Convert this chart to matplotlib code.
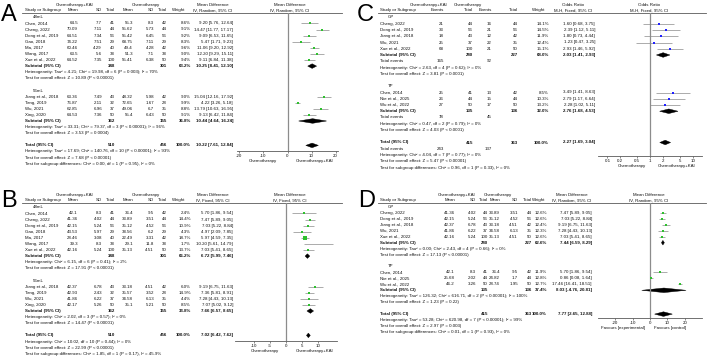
import matplotlib.pyplot as plt
from matplotlib.patches import Polygon
from matplotlib.ticker import NullLocator

plt.rcParams['font.family'] = ['Liberation Sans', 'DejaVu Sans']
FS = 3.2

# ---------------- A: 48mL / 56mL, IV random
a1_study = ["Chen, 2014", "Cheng, 2022", "Dong et al., 2019", "Gao, 2018", "Ma, 2017", "Wang, 2017", "Xue et al., 2022"]
a1_m1 = ["64.5", "70.09", "64.51", "74.22", "60.46", "63.5", "64.52"]
a1_sd1 = ["7.7", "7.11", "7.34", "7.51", "4.29", "5.6", "7.35"]
a1_n1 = [41, 44, 56, 29, 40, 38, 100]
a1_m2 = ["55.3", "55.62", "55.42", "68.75", "49.4", "51.3", "55.41"]
a1_sd2 = ["8.3", "5.73", "6.45", "7.11", "4.28", "7.1", "6.38"]
a1_n2 = [42, 44, 56, 29, 42, 38, 50]
a1_w = [8.6, 9.1, 9.2, 8.3, 9.6, 9.0, 9.4]
a1_md = [9.20, 14.47, 9.09, 5.47, 11.06, 12.20, 9.11]
a1_lo = [5.76, 11.77, 6.53, 1.71, 9.20, 9.29, 6.84]
a1_hi = [12.64, 17.17, 11.65, 9.23, 12.92, 15.11, 11.38]
a1_sub = [10.25, 8.41, 12.10]
a1_subw = "63.2%"
a1_het = "Heterogeneity: Tau² = 4.21; Chi² = 19.98, df = 6 (P = 0.003); I² = 70%"
a1_z = "Test for overall effect: Z = 10.89 (P < 0.00001)"

a2_study = ["Jiang et al., 2018", "Tang, 2019", "Wu, 2021", "Xing, 2020"]
a2_m1 = ["63.36", "76.87", "62.85", "64.53"]
a2_sd1 = ["7.49", "2.11", "6.96", "7.36"]
a2_n1 = [43, 32, 37, 50]
a2_m2 = ["48.32", "72.65", "49.06", "55.4"]
a2_sd2 = ["5.98", "1.67", "6.7", "6.43"]
a2_n2 = [42, 28, 35, 50]
a2_w = [9.0, 9.9, 8.8, 9.1]
a2_md = [15.04, 4.22, 13.79, 9.13]
a2_lo = [12.16, 3.26, 10.63, 6.42]
a2_hi = [17.92, 5.18, 16.95, 11.84]
a2_sub = [10.44, 4.64, 16.24]
a2_subw = "36.8%"
a2_het = "Heterogeneity: Tau² = 33.31; Chi² = 79.37, df = 3 (P < 0.00001); I² = 96%"
a2_z = "Test for overall effect: Z = 3.53 (P = 0.0004)"

a_tot = [10.22, 7.61, 12.84]
a_foot = ["Heterogeneity: Tau² = 17.69; Chi² = 140.76, df = 10 (P < 0.00001); I² = 93%",
          "Test for overall effect: Z = 7.68 (P < 0.00001)",
          "Test for subgroup differences: Chi² = 0.00, df = 1 (P = 0.95), I² = 0%"]

# ---------------- B: 48mL / 56mL, IV fixed
b1_study = ["Chen, 2014", "Cheng, 2022", "Dong et al., 2019", "Gao, 2018", "Ma, 2017", "Wang, 2017", "Xue et al., 2022"]
b1_m1 = ["42.1", "41.36", "42.15", "43.53", "28.46", "39.3", "42.16"]
b1_sd1 = ["8.3", "4.02", "5.24", "5.97", "3.08", "8.3", "5.24"]
b1_n1 = [41, 44, 56, 29, 40, 38, 100]
b1_m2 = ["36.4", "33.89", "35.12", "38.56", "22.49", "29.1", "35.13"]
b1_sd2 = ["9.5", "3.51", "4.52", "6.2", "3.31", "11.8", "4.51"]
b1_n2 = [42, 44, 56, 29, 42, 38, 50]
b1_w = [2.4, 14.4, 10.9, 4.3, 18.7, 1.7, 13.7]
b1_md = [5.70, 7.47, 7.03, 4.97, 5.97, 10.20, 7.03]
b1_lo = [1.86, 5.89, 5.22, 2.09, 4.59, 5.61, 5.41]
b1_hi = [9.54, 9.05, 8.84, 7.85, 7.35, 14.79, 8.65]
b1_sub = [6.72, 5.99, 7.46]
b1_subw = "66.2%"
b1_het = "Heterogeneity: Chi² = 6.15, df = 6 (P = 0.41); I² = 2%"
b1_z = "Test for overall effect: Z = 17.91 (P < 0.00001)"

b2_study = ["Jiang et al., 2018", "Tang, 2019", "Wu, 2021", "Xing, 2020"]
b2_m1 = ["42.37", "42.93", "41.86", "42.17"]
b2_sd1 = ["6.78", "2.43", "6.22", "5.26"]
b2_n1 = [43, 32, 37, 50]
b2_m2 = ["33.18", "35.57", "34.58", "35.1"]
b2_sd2 = ["4.51", "3.52", "6.13", "5.21"]
b2_n2 = [42, 28, 35, 50]
b2_w = [6.0, 14.9, 4.4, 8.5]
b2_md = [9.19, 7.36, 7.28, 7.07]
b2_lo = [6.75, 5.81, 4.43, 5.02]
b2_hi = [11.63, 8.91, 10.13, 9.12]
b2_sub = [7.66, 6.57, 8.65]
b2_subw = "33.8%"
b2_het = "Heterogeneity: Chi² = 2.02, df = 3 (P = 0.57); I² = 0%"
b2_z = "Test for overall effect: Z = 14.47 (P < 0.00001)"

b_tot = [7.02, 6.42, 7.62]
b_foot = ["Heterogeneity: Chi² = 10.02, df = 10 (P = 0.44); I² = 0%",
          "Test for overall effect: Z = 22.99 (P < 0.00001)",
          "Test for subgroup differences: Chi² = 1.85, df = 1 (P = 0.17), I² = 45.9%"]

# ---------------- C: GP / TP, odds ratio M-H fixed
c1_study = ["Cheng, 2022", "Dong et al., 2019", "Jiang et al., 2018", "Wu, 2021", "Xue et al., 2022"]
c1_e1 = [21, 33, 18, 25, 68]
c1_n1 = [44, 56, 43, 37, 100]
c1_e2 = [16, 21, 12, 22, 21]
c1_n2 = [44, 56, 42, 35, 50]
c1_w = [14.1, 14.5, 11.9, 12.4, 15.1]
c1_or = [1.60, 2.39, 1.80, 1.23, 2.93]
c1_lo = [0.68, 1.12, 0.73, 0.47, 1.46]
c1_hi = [3.75, 5.11, 4.44, 3.25, 5.92]
c1_sub = [2.03, 1.41, 2.93]
c1_subw = "68.0%"
c1_het = "Heterogeneity: Chi² = 2.63, df = 4 (P = 0.62); I² = 0%"
c1_z = "Test for overall effect: Z = 3.81 (P = 0.0001)"

c2_study = ["Chen, 2014", "Nie et al., 2025", "Wu et al., 2022"]
c2_e1 = [25, 26, 27]
c2_n1 = [41, 44, 50]
c2_e2 = [13, 15, 17]
c2_n2 = [42, 44, 50]
c2_w = [8.5, 10.3, 13.2]
c2_or = [3.49, 2.79, 2.28]
c2_lo = [1.41, 1.17, 1.02]
c2_hi = [8.63, 6.64, 5.11]
c2_sub = [2.76, 1.68, 4.53]
c2_subw = "32.0%"
c2_het = "Heterogeneity: Chi² = 0.47, df = 2 (P = 0.79); I² = 0%"
c2_z = "Test for overall effect: Z = 4.03 (P < 0.0001)"

c_tot = [2.27, 1.69, 3.04]
c_foot = ["Heterogeneity: Chi² = 4.04, df = 7 (P = 0.77); I² = 0%",
          "Test for overall effect: Z = 5.47 (P < 0.00001)",
          "Test for subgroup differences: Chi² = 0.96, df = 1 (P = 0.33), I² = 0%"]

# ---------------- D: GP / TP, IV random
d1_study = ["Cheng, 2022", "Dong et al., 2019", "Jiang et al., 2018", "Wu, 2021", "Xue et al., 2022"]
d1_m1 = ["41.36", "42.15", "42.37", "41.86", "42.16"]
d1_sd1 = ["4.02", "5.24", "6.78", "6.22", "5.24"]
d1_n1 = [44, 56, 43, 37, 100]
d1_m2 = ["33.89", "35.12", "33.18", "34.58", "35.13"]
d1_sd2 = ["3.51", "4.52", "4.51", "6.13", "4.51"]
d1_n2 = [44, 56, 42, 35, 50]
d1_w = [12.6, 12.6, 12.4, 12.3, 12.6]
d1_md = [7.47, 7.03, 9.19, 7.28, 7.03]
d1_lo = [5.89, 5.22, 6.75, 4.43, 5.41]
d1_hi = [9.05, 8.84, 11.63, 10.13, 8.65]
d1_sub = [7.44, 6.59, 8.29]
d1_subw = "62.6%"
d1_het = "Heterogeneity: Tau² = 0.00; Chi² = 2.43, df = 4 (P = 0.66); I² = 0%"
d1_z = "Test for overall effect: Z = 17.13 (P < 0.00001)"

d2_study = ["Chen, 2014", "Nie et al., 2025", "Wu et al., 2022"]
d2_m1 = ["42.1", "25.68", "46.2"]
d2_sd1 = ["8.3", "2.02", "3.26"]
d2_n1 = [41, 44, 50]
d2_m2 = ["36.4", "24.82", "28.74"]
d2_sd2 = ["9.5", "1.7", "1.95"]
d2_n2 = [42, 44, 50]
d2_w = [11.9, 12.8, 12.7]
d2_md = [5.70, 0.86, 17.46]
d2_lo = [1.86, 0.08, 16.41]
d2_hi = [9.54, 1.64, 18.51]
d2_sub = [8.03, -4.76, 20.81]
d2_subw = "37.4%"
d2_het = "Heterogeneity: Tau² = 126.32; Chi² = 616.71, df = 2 (P < 0.00001); I² = 100%"
d2_z = "Test for overall effect: Z = 1.23 (P = 0.22)"

d_tot = [7.77, 2.65, 12.88]
d_foot = ["Heterogeneity: Tau² = 53.28; Chi² = 620.98, df = 7 (P < 0.00001); I² = 99%",
          "Test for overall effect: Z = 2.97 (P = 0.003)",
          "Test for subgroup differences: Chi² = 0.01, df = 1 (P = 0.93), I² = 0%"]

GREEN = '#2fc02f'
BLUE = '#2020ff'
CI = '#8a8a8a'
LINE = '#5a5a5a'

fig = plt.figure(figsize=(7.08, 3.58), dpi=100)
bg = fig.add_axes([0, 0, 1, 1])
bg.set_xlim(0, 708)
bg.set_ylim(358, 0)
bg.axis('off')


def txt(x, y, s, ha='left', bold=False):
    bg.text(x, y, s, ha=ha, va='center', fontsize=FS, color='#111111',
            fontweight='bold' if bold else 'normal')


def fmt(m, l, h):
    return f"{m:.2f} [{l:.2f}, {h:.2f}]"


def group(name, study, cols, w, md, lo, hi, sub, subw, het, z):
    return dict(name=name, study=study, cols=cols, w=w, md=md, lo=lo, hi=hi,
                sub=sub, subw=subw, het=het, z=z)


def diamond(ax, est, y, h=2.3):
    m, l, r = est
    ax.add_patch(Polygon([(l, y), (m, y - h), (r, y), (m, y + h)], closed=True,
                         facecolor='black', edgecolor='black', lw=0.3))


def panel(lay, letter, groups, tot, foot, colnames, mname, meth, color, xlim,
          ticks, ticklabels, fav, log=False):
    top = lay['top']
    bg.text(lay['lx'], lay['ly'], letter, fontsize=17, va='top', ha='left',
            family=['Liberation Sans Narrow', 'Liberation Sans'])
    for s, x in lay['grp']:
        txt(x, top + 5, s, ha='center')
    txt(lay['xs'], top + 10.3, "Study or Subgroup")
    for s, x in zip(colnames, lay['cols']):
        txt(x, top + 10.3, s, ha='right')
    txt(lay['xwh'], top + 10.3, "Weight", ha='right')
    for xc in (lay['xmc'], lay['fhc']):
        txt(xc, top + 5, mname, ha='center')
        txt(xc, top + 10.3, meth, ha='center')
    bg.plot(lay['line'], [top + 13, top + 13], color=LINE, lw=0.6)

    x0, x1 = lay['fx']
    ya = lay['axis']
    yt = top + 13
    ax = fig.add_axes([x0 / 708, (358 - ya) / 358, (x1 - x0) / 708, (ya - yt) / 358])
    if log:
        ax.set_xscale('log')
    ax.set_xlim(*xlim)
    ax.set_ylim(ya, yt)
    ax.patch.set_alpha(0)
    for sp in ['top', 'left', 'right']:
        ax.spines[sp].set_visible(False)
    ax.spines['bottom'].set_color(LINE)
    ax.spines['bottom'].set_linewidth(0.6)
    ax.set_yticks([])
    ax.set_xticks(ticks)
    ax.set_xticklabels(ticklabels)
    ax.xaxis.set_minor_locator(NullLocator())
    ax.tick_params(axis='x', labelsize=FS, length=1.5, width=0.5, pad=0.8,
                   color=LINE, labelcolor='#111111')
    ax.axvline(1 if log else 0, color='#8c8c8c', lw=0.9)
    for s, x in fav:
        txt(x, ya + 10, s, ha='center')

    y = lay['start']
    st = lay['step']
    ev = lay.get('ecols')
    for g in groups:
        txt(lay['xg'], y, g['name'])
        y += st
        for i, s in enumerate(g['study']):
            txt(lay['xs'], y, s)
            for c, x in zip(g['cols'], lay['cols']):
                txt(x, y, str(c[i]), ha='right')
            txt(lay['xw'], y, f"{g['w'][i]:.1f}%", ha='right')
            txt(lay['xm'], y, fmt(g['md'][i], g['lo'][i], g['hi'][i]), ha='right')
            ax.hlines(y, g['lo'][i], g['hi'][i], color=CI, lw=0.5)
            side = 0.55 * g['w'][i] ** 0.5
            ax.scatter([g['md'][i]], [y], marker='s', s=side ** 2, color=color, lw=0, zorder=3)
            y += st
        txt(lay['xs'], y, "Subtotal (95% CI)", bold=True)
        for k in lay['ncols']:
            txt(lay['cols'][k], y, str(sum(g['cols'][k])), ha='right', bold=True)
        txt(lay['xw'], y, g['subw'], ha='right', bold=True)
        txt(lay['xm'], y, fmt(*g['sub']), ha='right', bold=True)
        diamond(ax, g['sub'], y)
        y += st
        if ev:
            txt(lay['xs'], y, "Total events")
            for k in ev:
                txt(lay['cols'][k], y, str(sum(g['cols'][k])), ha='right')
            y += st
        txt(lay['xs'], y, g['het'])
        y += st
        txt(lay['xs'], y, g['z'])
        y += 2 * st

    txt(lay['xs'], y, "Total (95% CI)", bold=True)
    for k in lay['ncols']:
        txt(lay['cols'][k], y, str(sum(sum(g['cols'][k]) for g in groups)), ha='right', bold=True)
    txt(lay['xw'], y, "100.0%", ha='right', bold=True)
    txt(lay['xm'], y, fmt(*tot), ha='right', bold=True)
    diamond(ax, tot, y)
    y += st
    if ev:
        txt(lay['xs'], y, "Total events")
        for k in ev:
            txt(lay['cols'][k], y, str(sum(sum(g['cols'][k]) for g in groups)), ha='right')
        y += st
    for s in foot:
        txt(lay['xs'], y, s)
        y += st


lay_a = dict(top=0, lx=1, ly=4, xs=25, xg=33, cols=[78, 102, 115, 133, 154, 167],
             grp=[("Chemotherapy+KAI", 75), ("Chemotherapy", 146)], ncols=[2, 5],
             xwh=185, xw=191, xm=233, xmc=213, fhc=290, line=(22, 342),
             fx=(237, 338), axis=151, start=17.3, step=6.1)
lay_b = dict(lay_a, top=190, ly=190, fx=(235, 337), axis=341, start=207.3)
lay_c = dict(top=0, lx=357, ly=4, xs=380, xg=388, cols=[444, 473, 492, 518],
             grp=[("Chemotherapy+KAI", 429), ("Chemotherapy", 468)], ncols=[1, 3], ecols=[0, 2],
             xwh=545, xw=549, xm=595, xmc=573, fhc=649, line=(378, 706),
             fx=(598, 702), axis=156, start=17.5, step=6.25)
lay_d = dict(top=190, lx=358, ly=190, xs=380, xg=388, cols=[455, 476, 488, 500, 518, 532],
             grp=[("Chemotherapy+KAI", 457), ("Chemotherapy", 498)], ncols=[2, 5],
             xwh=545, xw=547, xm=592, xmc=572, fhc=649, line=(378, 706),
             fx=(598, 702), axis=318, start=207, step=5.95)

md_cols = ["Mean", "SD", "Total", "Mean", "SD", "Total"]

panel(lay_a, "A",
      [group("48mL", a1_study, [a1_m1, a1_sd1, a1_n1, a1_m2, a1_sd2, a1_n2], a1_w, a1_md, a1_lo, a1_hi,
             a1_sub, a1_subw, a1_het, a1_z),
       group("56mL", a2_study, [a2_m1, a2_sd1, a2_n1, a2_m2, a2_sd2, a2_n2], a2_w, a2_md, a2_lo, a2_hi,
             a2_sub, a2_subw, a2_het, a2_z)],
      a_tot, a_foot, md_cols, "Mean Difference", "IV, Random, 95% CI", GREEN,
      (-21, 21), [-20, -10, 0, 10, 20], ["-20", "-10", "0", "10", "20"],
      [("Chemotherapy", 263), ("Chemotherapy+KAI", 315)])

panel(lay_b, "B",
      [group("48mL", b1_study, [b1_m1, b1_sd1, b1_n1, b1_m2, b1_sd2, b1_n2], b1_w, b1_md, b1_lo, b1_hi,
             b1_sub, b1_subw, b1_het, b1_z),
       group("56mL", b2_study, [b2_m1, b2_sd1, b2_n1, b2_m2, b2_sd2, b2_n2], b2_w, b2_md, b2_lo, b2_hi,
             b2_sub, b2_subw, b2_het, b2_z)],
      b_tot, b_foot, md_cols, "Mean Difference", "IV, Fixed, 95% CI", GREEN,
      (-16, 16), [-10, -5, 0, 5, 10], ["-10", "-5", "0", "5", "10"],
      [("Chemotherapy", 265), ("Chemotherapy+KAI", 315)])

panel(lay_c, "C",
      [group("GP", c1_study, [c1_e1, c1_n1, c1_e2, c1_n2], c1_w, c1_or, c1_lo, c1_hi,
             c1_sub, c1_subw, c1_het, c1_z),
       group("TP", c2_study, [c2_e1, c2_n1, c2_e2, c2_n2], c2_w, c2_or, c2_lo, c2_hi,
             c2_sub, c2_subw, c2_het, c2_z)],
      c_tot, c_foot, ["Events", "Total", "Events", "Total"], "Odds Ratio", "M-H, Fixed, 95% CI", BLUE,
      (0.06, 16.6), [0.1, 0.2, 0.5, 1, 2, 5, 10], ["0.1", "0.2", "0.5", "1", "2", "5", "10"],
      [("Chemotherapy", 632), ("Chemotherapy+KAI", 677)], log=True)

panel(lay_d, "D",
      [group("GP", d1_study, [d1_m1, d1_sd1, d1_n1, d1_m2, d1_sd2, d1_n2], d1_w, d1_md, d1_lo, d1_hi,
             d1_sub, d1_subw, d1_het, d1_z),
       group("TP", d2_study, [d2_m1, d2_sd1, d2_n1, d2_m2, d2_sd2, d2_n2], d2_w, d2_md, d2_lo, d2_hi,
             d2_sub, d2_subw, d2_het, d2_z)],
      d_tot, d_foot, md_cols, "Mean Difference", "IV, Random, 95% CI", GREEN,
      (-30, 30), [-20, -10, 0, 10, 20], ["-20", "-10", "0", "10", "20"],
      [("Favours [experimental]", 623), ("Favours [control]", 670)])

fig.savefig('out.png', dpi=100)
